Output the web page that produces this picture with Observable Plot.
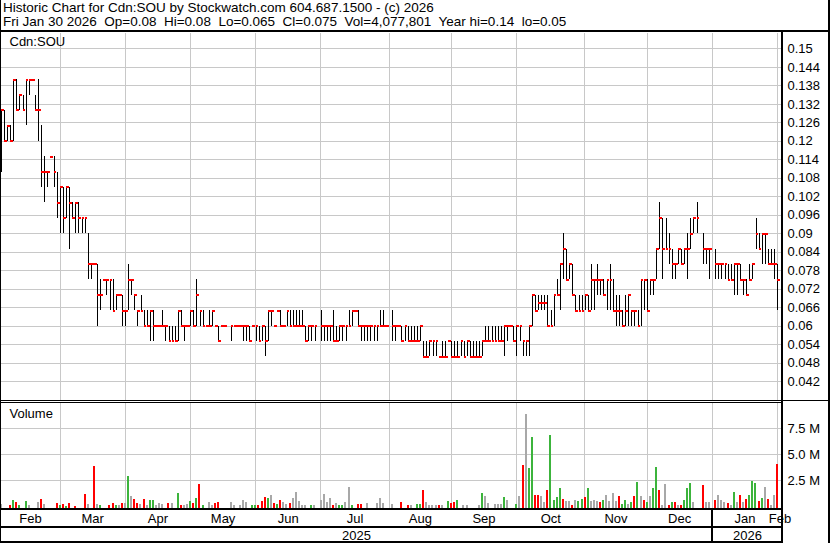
<!DOCTYPE html>
<html><head><meta charset="utf-8">
<script src="https://cdn.jsdelivr.net/npm/d3@7"></script>
<script src="https://cdn.jsdelivr.net/npm/@observablehq/plot@0.6"></script>
<style>
html,body{margin:0;padding:0;background:#fff;}
#wrap{position:relative;width:830px;height:543px;overflow:hidden;font-family:"Liberation Sans",Arial,sans-serif;color:#000;background:#fff;}
.abs{position:absolute;}
.hdr{position:absolute;left:3px;font-size:13.5px;line-height:15px;white-space:pre;}
.ln{position:absolute;background:#000;}
</style></head><body>
<div id="wrap">
  <div class="hdr" id="h1" style="top:0px"></div>
  <div class="hdr" id="h2" style="top:14px"></div>
  <div id="price" class="abs" style="left:0;top:31px"></div>
  <div id="vol" class="abs" style="left:0;top:401px"></div>
  <div id="mon" class="abs" style="left:0;top:509px"></div>
  <div id="yr" class="abs" style="left:0;top:527px"></div>
  <div class="ln" style="left:0;top:0;width:1px;height:543px"></div>
  <div class="ln" style="left:828px;top:0;width:2px;height:543px"></div>
  <div class="ln" style="left:0;top:30px;width:830px;height:2px"></div>
  <div class="ln" style="left:781px;top:31px;width:2px;height:512px"></div>
  <div class="ln" style="left:0;top:400px;width:830px;height:1px"></div>
  <div class="ln" style="left:0;top:402px;width:782px;height:1px"></div>
  <div class="ln" style="left:0;top:508px;width:783px;height:2px"></div>
  <div class="ln" style="left:0;top:526px;width:783px;height:2px"></div>
  <div class="ln" style="left:0;top:541px;width:783px;height:2px"></div>
</div>
<script>
const title = "Historic Chart for Cdn:SOU by Stockwatch.com 604.687.1500 - (c) 2026";
const subtitle = "Fri Jan 30 2026  Op=0.08  Hi=0.08  Lo=0.065  Cl=0.075  Vol=4,077,801  Year hi=0.14  lo=0.05";
const symbol = "Cdn:SOU";
const volLabel = "Volume";

// daily bars, index 0 = Jan 31 2025 ... 250 = Jan 30 2026 (trading days)
const hi = [
.13,.13,.125,.125,.14,.14,.135,.135,.14,.14,
.14,.135,.14,.125,.115,.11,.115,.115,.11,.105,
.105,.105,.105,.10,.10,.10,.095,.095,.09,.08,
.08,.08,.075,.075,.075,.075,.075,.07,.07,.07,
.065,.08,.075,.07,.065,.07,.065,.065,.065,.065,
.06,.06,.065,.06,.06,.06,.06,.065,.065,.06,
.06,.065,.065,.075,.065,.065,.06,.065,.065,.06,
.06,.06,.06,null,.06,.06,.06,.06,.06,.06,
.06,.06,.06,.06,.06,.06,.065,.065,.06,.065,
.065,.06,.065,.065,.065,.065,.065,.065,.06,.06,
.06,.06,null,.065,.06,.06,.06,.065,.06,.06,
.06,.06,.065,.065,.065,.065,.06,.06,.06,.06,
.06,.06,.065,.065,.06,null,.065,.06,.06,.06,
.06,.06,.06,.06,.06,.06,.055,.055,.055,.055,
.055,.05,.055,.055,.055,.055,.055,.055,.055,.055,
.055,.055,.055,.055,.055,.055,.06,.06,.06,.06,
.06,.06,.06,.06,.06,.06,.06,.06,.055,.055,
.06,.07,.07,.07,.07,.07,.07,.065,.07,.075,
.08,.09,.085,.08,.08,.07,.07,.07,.07,.07,
.08,.075,.08,.075,.075,.075,.08,.075,.07,.07,
.065,.07,.07,.065,.065,.065,.075,.075,.075,.075,
.075,.085,.10,.095,.095,.09,.085,.08,.085,.085,
.085,.09,.095,.095,.10,null,.09,.085,.085,null,
.085,.08,.08,.08,.08,.08,.08,.08,.08,.075,
.075,.08,.08,.095,.09,.09,.09,.085,.085,.085,
.08];
const lo = [
.11,.12,.12,.12,.12,.13,.13,.13,.125,.135,
.14,.13,.12,.105,.10,.105,.115,.105,.095,.09,
.09,.095,.085,.095,.09,.09,.09,.09,.075,.075,
.08,.06,.065,.075,.07,.065,.065,.065,.07,.06,
.06,.065,.07,.065,.06,.065,.06,.06,.055,.055,
.06,.06,.06,.055,.055,.055,.055,.055,.06,.055,
.06,.06,.06,.06,.06,.06,.06,.06,.06,.06,
.055,.06,.06,null,.055,.06,.06,.06,.055,.055,
.055,.06,.055,.055,.055,.05,.055,.06,.06,.065,
.06,.06,.06,.06,.06,.06,.06,.06,.055,.055,
.055,.055,null,.055,.055,.055,.055,.055,.055,.055,
.055,.055,.06,.06,.065,.06,.055,.055,.055,.055,
.055,.055,.06,.06,.06,null,.055,.055,.06,.055,
.055,.055,.055,.055,.055,.055,.05,.05,.05,.05,
.05,.05,.05,.05,.055,.05,.05,.05,.05,.05,
.05,.05,.05,.05,.05,.05,.055,.055,.055,.055,
.055,.055,.05,.055,.06,.055,.05,.055,.05,.05,
.05,.06,.065,.065,.065,.065,.06,.06,.06,.07,
.065,.075,.075,.075,.07,.065,.065,.065,.065,.065,
.065,.065,.07,.07,.07,.065,.065,.065,.06,.06,
.06,.06,.06,.06,.06,.06,.06,.065,.065,.07,
.07,.075,.085,.075,.085,.08,.075,.075,.08,.08,
.08,.075,.085,.09,.09,null,.08,.08,.075,null,
.075,.075,.075,.075,.075,.075,.07,.07,.075,.07,
.07,.075,.075,.085,.085,.08,.08,.08,.08,.075,
.065];
const cl = [
.13,.12,.125,.12,.14,.13,.135,.13,.14,.14,
.14,.13,.13,.11,.11,.11,.115,.11,.10,.105,
.095,.105,.10,.095,.10,.095,.095,.095,.08,.08,
.08,.07,.07,.075,.075,.075,.065,.07,.07,.065,
.065,.075,.075,.07,.065,.065,.06,.06,.065,.06,
.06,.06,.06,.06,.055,.055,.055,.065,.06,.06,
.06,.065,.06,.07,.065,.06,.06,.06,.065,.06,
.055,.06,.06,null,.06,.06,.06,.06,.06,.06,
.055,.06,.06,.055,.06,.055,.065,.065,.06,.065,
.06,.06,.065,.06,.06,.06,.06,.06,.055,.06,
.06,.06,null,.06,.06,.06,.06,.055,.055,.06,
.06,.06,.06,.065,.065,.06,.06,.06,.06,.06,
.06,.06,.06,.06,.06,null,.06,.06,.06,.055,
.06,.055,.055,.055,.055,.06,.05,.05,.055,.055,
.055,.05,.05,.05,.055,.05,.05,.05,.055,.05,
.055,.05,.05,.05,.05,.055,.055,.055,.055,.055,
.055,.055,.06,.06,.06,.055,.06,.06,.055,.055,
.06,.07,.065,.0675,.0675,.0675,.06,.06,.07,.07,
.08,.085,.075,.08,.07,.065,.065,.065,.07,.065,
.075,.075,.075,.075,.07,.075,.075,.065,.065,.065,
.06,.065,.07,.065,.065,.06,.075,.075,.065,.075,
.075,.085,.095,.085,.085,.085,.08,.08,.085,.08,
.085,.085,.09,.095,.095,null,.085,.085,.085,null,
.08,.08,.08,.08,.075,.075,.08,.08,.075,.075,
.07,.075,.08,.09,.085,.09,.09,.08,.08,.08,
.075];

// volume bars: trading-day index, millions of shares, direction (g up, r down, n unchanged)
const volDay = [0,3,4,5,6,8,9,12,13,14,18,19,20,21,22,24,27,28,30,31,32,35,36,37,38,39,40,41,42,43,44,45,46,47,48,49,50,51,52,54,55,57,58,59,60,61,62,63,64,65,67,68,69,70,74,75,77,78,79,81,82,83,84,85,86,87,88,89,90,91,92,93,94,95,96,97,98,100,101,103,104,105,106,107,108,109,110,111,112,113,115,116,118,121,122,123,126,129,131,132,134,
135,136,137,138,139,140,141,142,144,145,146,147,149,150,154,155,156,157,159,160,161,162,163,166,167,168,169,170,171,172,173,
174,175,176,177,178,179,180,181,182,183,184,185,186,187,188,189,190,191,192,193,194,195,196,197,198,199,200,201,202,203,204,205,206,207,208,209,210,211,212,213,214,215,216,217,218,219,220,221,222,223,
226,227,228,230,231,232,233,234,235,236,237,238,239,240,241,242,243,244,245,246,247,248,249,250];
const volM = [.26,.1,.6,.45,.1,.55,.1,.4,.7,.2,.3,.12,.2,.08,.3,.08,1.15,.2,3.9,.2,.1,.13,.3,.13,.1,.3,.3,2.95,.95,.7,.3,.2,.7,.1,.65,.65,.1,.3,.2,.3,.3,1.3,.1,.13,.2,.5,.3,.8,2.15,.1,.4,.13,.3,.4,.4,.13,.15,.65,.4,.1,.1,.13,.5,.85,.8,1.05,.35,.2,.6,.4,.2,.3,.8,1.4,.55,.13,.13,.13,.1,.65,1.15,.4,.8,.13,.3,.13,.15,.4,1.9,.1,.2,.2,.3,.3,.8,.3,.2,.4,.13,.1,.2,
.2,1.6,.4,.1,.1,.13,.1,.15,.5,.3,.4,.65,.15,.1,.1,1.3,.95,.3,.2,.2,.2,.85,.6,.2,.95,3.95,8.9,3.7,6.7,1.05,1.1,
1.0,.4,1.6,6.9,.6,.85,1.8,.75,.5,.5,.1,.65,.55,.75,.85,1.8,.5,.65,.55,.45,.65,1.05,.5,1.25,.55,.95,.2,.65,.2,.4,1.0,2.35,1.0,.65,.45,.95,1.8,3.75,1.6,.17,2.15,.17,.45,.37,.1,.17,.65,1.75,2.25,.37,
2.05,.37,.37,.65,1.13,.65,.45,.3,.17,1.33,.37,1.13,.45,.75,1.13,2.4,2.2,.55,.8,1.9,.75,.17,1.13,4.08];
const volDir = ["n","r","g","r","g","g","n","n","r","n","r","g","r","g","r","r","r","n","r","n","g","r","r","g","n","r","n","g","n","r","r","n","r","n","g","g","n","n","n","r","n","g","r","n","n","g","r","g","r","g","n","n","r","r","n","n","n","n","n","g","g","r","r","r","g","n","r","g","r","n","n","r","n","n","n","n","n","g","n","n","n","n","n","r","n","g","g","n","n","g","r","r","n","n","n","n","n","r","r","n","g",
"g","r","n","n","n","n","r","n","g","r","r","g","n","n","n","g","n","n","n","n","n","g","n","g","n","r","n","g","g","r","r",
"n","n","r","g","g","g","g","r","n","n","r","n","g","g","r","g","n","n","n","r","g","n","n","n","n","r","g","g","n","g","r","g","n","r","g","n","g","g","r","n","n","r","g","r","n","r","g","g","g","n",
"r","n","n","r","n","n","n","r","n","g","n","r","n","r","g","g","g","r","g","n","r","n","n","r"];

// axes
const priceTicks = [0.15,0.144,0.138,0.132,0.126,0.12,0.114,0.108,0.102,0.096,0.09,0.084,0.078,0.072,0.066,0.06,0.054,0.048,0.042];
const volTicks = [2.5,5,7.5];
const volTickLabels = ["2.5 M","5.0 M","7.5 M"];
const months = ["Feb","Mar","Apr","May","Jun","Jul","Aug","Sep","Oct","Nov","Dec","Jan","Feb"];
const monthStart = [1,20,41,62,83,104,126,146,167,189,209,230,251];
const years = ["2025","2026"];
const yearStart = [1,230];

document.getElementById("h1").textContent = title;
document.getElementById("h2").textContent = subtitle;

const X0 = -0.258, X1 = 251.5;           // x domain in trading-day units
const grid = "#c8c8c8";
const font = "Liberation Sans, Arial, sans-serif";
const colors = {g: "#3cb43c", r: "#ff0000", n: "#a8a8a8"};
const gl = k => k - 1.1;                   // month grid position
const monthGrid = monthStart.slice(1).map(gl);
const monthMid = months.map((m, j) => {
  const a = j === 0 ? gl(monthStart[0]) : gl(monthStart[j]);
  const b = j + 1 < monthStart.length ? gl(monthStart[j + 1]) : X1;
  return {m, x: (a + b) / 2};
});
const yearMid = years.map((y, j) => {
  const a = j === 0 ? X0 : gl(yearStart[j]);
  const b = j + 1 < yearStart.length ? gl(yearStart[j + 1]) : X1;
  return {y, x: (a + b) / 2};
});

const days = hi.map((h, i) => ({i, h, l: lo[i], c: cl[i]})).filter(d => d.h != null);
const vols = volDay.map((d, j) => ({i: d, v: volM[j], dir: volDir[j]}));

const xScale = {type: "linear", domain: [X0, X1], axis: null};

const price = Plot.plot({
  width: 830, height: 370, marginLeft: 0, marginRight: 48, marginTop: 2, marginBottom: 0,
  style: {fontFamily: font, background: "transparent"},
  x: xScale,
  y: {domain: [0.0355, 0.155], axis: null},
  marks: [
    Plot.ruleY(priceTicks, {stroke: grid, shapeRendering: "crispEdges"}),
    Plot.ruleX(monthGrid, {stroke: grid, shapeRendering: "crispEdges"}),
    Plot.text(priceTicks, {y: d => d, text: d => String(d), frameAnchor: "right", textAnchor: "start", dx: 5, fontSize: 13, fill: "#000"}),
    Plot.ruleX(days, {x: "i", y1: "l", y2: "h", stroke: "#000", strokeWidth: 1, shapeRendering: "crispEdges"}),
    Plot.ruleY(days, {y: "c", x1: "i", x2: d => d.i + 0.9, stroke: "#ff0000", strokeWidth: 2, shapeRendering: "crispEdges"}),
    Plot.text([symbol], {frameAnchor: "top-left", dx: 9, dy: 3, lineAnchor: "top", fontSize: 13, fill: "#000"})
  ]
});
document.getElementById("price").appendChild(price);

const VMIN = -0.16, VMAX = 9.93;
const vol = Plot.plot({
  width: 830, height: 108, marginLeft: 0, marginRight: 48, marginTop: 2, marginBottom: 1,
  style: {fontFamily: font, background: "transparent"},
  x: xScale,
  y: {domain: [VMIN, VMAX], axis: null},
  marks: [
    Plot.ruleY(volTicks, {stroke: grid, shapeRendering: "crispEdges"}),
    Plot.ruleX(monthGrid, {stroke: grid, shapeRendering: "crispEdges"}),
    Plot.text(volTicks, {y: d => d, text: (d, k) => volTickLabels[k], frameAnchor: "right", textAnchor: "start", dx: 5, fontSize: 13, fill: "#000"}),
    Plot.ruleX(vols, {x: d => d.i - 0.2, y1: VMIN, y2: "v", stroke: d => colors[d.dir], strokeWidth: 2, shapeRendering: "crispEdges"}),
    Plot.text([volLabel], {frameAnchor: "top-left", dx: 9, dy: 5, lineAnchor: "top", fontSize: 13, fill: "#000"})
  ]
});
document.getElementById("vol").appendChild(vol);

const mon = Plot.plot({
  width: 830, height: 18, marginLeft: 0, marginRight: 48, marginTop: 0, marginBottom: 0,
  style: {fontFamily: font, background: "transparent", overflow: "visible"},
  x: xScale,
  marks: [
    Plot.ruleX([gl(yearStart[1])], {stroke: "#000", strokeWidth: 2, shapeRendering: "crispEdges"}),
    Plot.text(monthMid, {x: "x", text: "m", frameAnchor: "middle", fontSize: 13, fill: "#000"})
  ]
});
document.getElementById("mon").appendChild(mon);

const yr = Plot.plot({
  width: 830, height: 16, marginLeft: 0, marginRight: 48, marginTop: 0, marginBottom: 0,
  style: {fontFamily: font, background: "transparent"},
  x: xScale,
  marks: [
    Plot.ruleX([gl(yearStart[1])], {stroke: "#000", strokeWidth: 2, shapeRendering: "crispEdges"}),
    Plot.text(yearMid, {x: "x", text: "y", frameAnchor: "middle", fontSize: 13, fill: "#000"})
  ]
});
document.getElementById("yr").appendChild(yr);
</script>
</body></html>
